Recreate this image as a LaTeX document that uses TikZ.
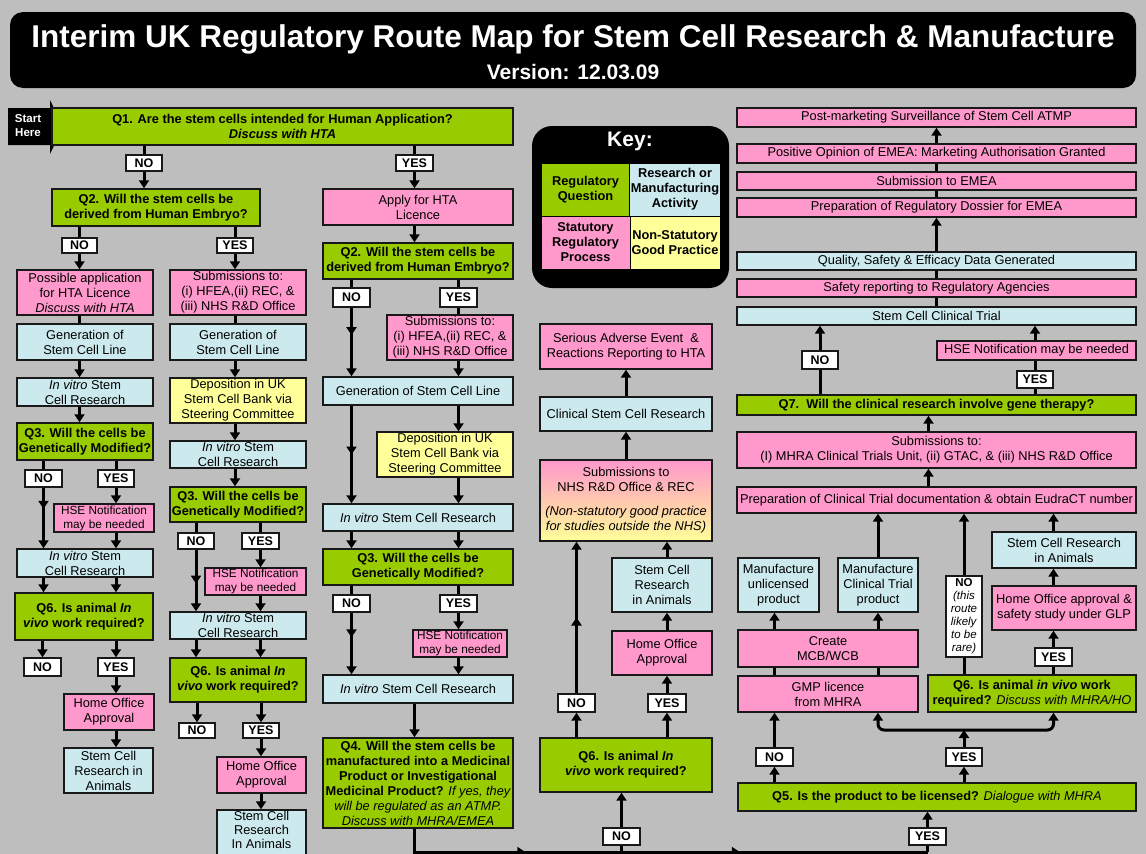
\documentclass[tikz,border=0pt]{standalone}
\usepackage{fontspec}
\setmainfont{Liberation Sans}
\usetikzlibrary{arrows.meta,decorations.markings}
\definecolor{bg}{RGB}{190,190,190}
\definecolor{qgreen}{RGB}{153,204,0}
\definecolor{ppink}{RGB}{255,153,204}
\definecolor{rblue}{RGB}{204,234,238}
\definecolor{nyellow}{RGB}{255,255,153}
\definecolor{edge}{RGB}{25,25,25}
\newcommand{\bx}[7]{\node[#2, minimum width={(#5)-(#3)}, minimum height={(#6)-(#4)}] (#1) at ({((#3)+(#5))/2},{((#4)+(#6))/2}) {#7};}
\newcommand{\itm}[1]{{\mdseries\itshape #1}}
\tikzset{
  base/.style={draw=edge, line width=1.4pt, inner sep=1pt, align=center, text=black, font=\fontsize{12.8}{15}\selectfont},
  q/.style={base, fill=qgreen, font=\fontsize{12.8}{15}\selectfont\bfseries},
  st/.style={base, fill=ppink},
  ra/.style={base, fill=rblue},
  gp/.style={base, fill=nyellow},
  hse/.style={font=\fontsize{11.8}{14}\selectfont},
  lab/.style={base, fill=white, font=\fontsize{12.5}{14}\selectfont\bfseries},
  keycell/.style={draw=black, line width=1pt, inner sep=1pt, align=center, font=\fontsize{12.8}{15}\selectfont\bfseries},
  line/.style={line width=3pt, draw=black},
  conn/.style={line, -{Triangle[length=8pt,width=10pt]}},
  midarr/.style={postaction={decorate}, decoration={markings, mark=at position #1 with {\arrow{Triangle[length=8pt,width=10pt]}}}},
  midarr/.default=0.5
}
\begin{document}
\begin{tikzpicture}[x=1pt,y=-1pt]
\fill[bg] (0,0) rectangle (1146,854);
\useasboundingbox (0,0) rectangle (1146,854);
% title
\node[fill=black, rounded corners=13pt, minimum width=1126, minimum height=76] (title) at (573,50) {};
\node[text=white, font=\fontsize{31.5}{34}\selectfont\bfseries] (t1) at (573,39) {Interim UK Regulatory Route Map for Stem Cell Research \& Manufacture};
\node[text=white, font=\fontsize{21}{24}\selectfont\bfseries] (t2) at (573,72) {Version: 12.03.09};
% start
\fill[black] (8,108) -- (50,108) -- (50,100) -- (63,127) -- (50,154) -- (50,145) -- (8,145) -- cycle;
\node[text=white, align=center, font=\fontsize{11.5}{14}\selectfont\bfseries] (start) at (28,126) {Start\\Here};
% key
\node[fill=black, rounded corners=20pt, minimum width=197, minimum height=162] (key) at (630.5,207) {};
\node[text=white, font=\fontsize{21}{24}\selectfont\bfseries] (keyt) at (630,141) {Key:};
\bx{k1}{keycell, fill=qgreen}{541}{163}{630}{216}{Regulatory\\Question}
\bx{k2}{keycell, fill=rblue}{630}{163}{720}{216}{Research or\\Manufacturing\\Activity}
\bx{k3}{keycell, fill=ppink}{541}{216}{630}{269}{Statutory\\Regulatory\\Process}
\bx{k4}{keycell, fill=nyellow}{630}{216}{720}{269}{Non-Statutory\\Good Practice}
% left columns
\bx{q1}{q}{52}{108}{513}{145}{Q1. Are the stem cells intended for Human Application?\\\textit{Discuss with HTA}}
\bx{l1no}{lab}{126}{155}{162}{171}{NO}
\bx{l1yes}{lab}{396}{155}{433}{171}{YES}
\bx{q2l}{q}{52}{189}{260}{226}{Q2. Will the stem cells be\\derived from Human Embryo?}
\bx{l2no}{lab}{62}{238}{97}{253}{NO}
\bx{l2yes}{lab}{217}{238}{253}{253}{YES}
\bx{possapp}{st}{17}{270}{153}{315}{Possible application\\for HTA Licence\\\textit{Discuss with HTA}}
\bx{subl}{st}{170}{270}{306}{315}{Submissions to:\\(i) HFEA,(ii) REC, \&\\(iii) NHS R\&D Office}
\bx{genl1}{ra}{17}{324}{153}{360}{Generation of\\Stem Cell Line}
\bx{genl2}{ra}{170}{324}{306}{360}{Generation of\\Stem Cell Line}
\bx{ivA}{ra}{17}{378}{153}{406}{\textit{In vitro} Stem\\Cell Research}
\bx{depA}{gp}{170}{378}{306}{423}{Deposition in UK\\Stem Cell Bank via\\Steering Committee}
\bx{q3A}{q}{17}{423}{153}{460}{Q3. Will the cells be\\Genetically Modified?}
\bx{ivB}{ra}{170}{441}{306}{468}{\textit{In vitro} Stem\\Cell Research}
\bx{l3no}{lab}{25}{470}{62}{487}{NO}
\bx{l3yes}{lab}{98}{470}{134}{487}{YES}
\bx{hseA}{st,hse}{54}{504}{154}{532}{HSE Notification\\may be needed}
\bx{q3B}{q}{170}{487}{306}{522}{Q3. Will the cells be\\Genetically Modified?}
\bx{m3no}{lab}{178}{533}{214}{549}{NO}
\bx{m3yes}{lab}{242}{533}{279}{549}{YES}
\bx{ivC}{ra}{17}{549}{153}{577}{\textit{In vitro} Stem\\Cell Research}
\bx{hseB}{st,hse}{205}{568}{306}{595}{HSE Notification\\may be needed}
\bx{q6A}{q}{15}{593}{153}{640}{Q6. Is animal \textit{In}\\\textit{vivo} work required?}
\bx{ivD}{ra}{170}{612}{306}{639}{\textit{In vitro} Stem\\Cell Research}
\bx{l6no}{lab}{24}{658}{61}{676}{NO}
\bx{l6yes}{lab}{98}{658}{134}{676}{YES}
\bx{q6B}{q}{170}{658}{306}{702}{Q6. Is animal \textit{In}\\\textit{vivo} work required?}
\bx{homeA}{st}{64}{694}{154}{730}{Home Office\\Approval}
\bx{m6no}{lab}{179}{723}{215}{738}{NO}
\bx{m6yes}{lab}{243}{723}{279}{738}{YES}
\bx{stemA}{ra}{64}{748}{153}{793}{Stem Cell\\Research in\\Animals}
\bx{homeB}{st}{217}{757}{306}{793}{Home Office\\Approval}
\bx{stemB}{ra}{217}{810}{306}{870}{}
\node[align=center, font=\fontsize{12.8}{14}\selectfont, inner sep=0pt] (stemBt) at (261.5,830) {Stem Cell\\Research\\In Animals};
% middle column
\bx{apply}{st}{323}{189}{513}{225}{Apply for HTA\\Licence}
\bx{q2m}{q}{323}{243}{513}{279}{Q2. Will the stem cells be\\derived from Human Embryo?}
\bx{c2no}{lab}{333}{288}{370}{307}{NO}
\bx{c2yes}{lab}{440}{288}{477}{307}{YES}
\bx{subM}{st}{387}{315}{513}{360}{Submissions to:\\(i) HFEA,(ii) REC, \&\\(iii) NHS R\&D Office}
\bx{genM}{ra}{323}{377}{513}{405}{Generation of Stem Cell Line}
\bx{depM}{gp}{377}{432}{513}{477}{Deposition in UK\\Stem Cell Bank via\\Steering Committee}
\bx{ivM1}{ra}{323}{504}{513}{531}{\textit{In vitro} Stem Cell Research}
\bx{q3M}{q}{323}{549}{513}{585}{Q3. Will the cells be\\Genetically Modified?}
\bx{c3no}{lab}{333}{595}{370}{612}{NO}
\bx{c3yes}{lab}{440}{595}{477}{612}{YES}
\bx{hseM}{st,hse}{413}{630}{507}{657}{HSE Notification\\may be needed}
\bx{ivM2}{ra}{323}{675}{513}{703}{\textit{In vitro} Stem Cell Research}
\bx{q4}{q}{323}{738}{513}{828}{Q4. Will the stem cells be\\manufactured into a Medicinal\\Product or Investigational\\Medicinal Product? \itm{If yes, they}\\\itm{will be regulated as an ATMP.}\\\itm{Discuss with MHRA/EMEA}}
% centre column
\bx{serious}{st}{540}{324}{712}{369}{Serious Adverse Event\ \ \&\\Reactions Reporting to HTA}
\bx{clin}{ra}{540}{397}{712}{431}{Clinical Stem Cell Research}
\bx{subnhs}{base, top color=ppink, bottom color=nyellow, middle color={rgb,255:red,255;green,200;blue,175}}{540}{460}{712}{541}{Submissions to\\NHS R\&D Office \& REC\\[9pt]\textit{(Non-statutory good practice}\\\textit{for studies outside the NHS)}}
\bx{stemC}{ra}{612}{558}{712}{612}{Stem Cell\\Research\\in Animals}
\bx{homeC}{st}{612}{631}{712}{675}{Home Office\\Approval}
\bx{q6cno}{lab}{558}{694}{595}{712}{NO}
\bx{q6cyes}{lab}{648}{694}{686}{712}{YES}
\bx{q6C}{q}{540}{738}{712}{792}{Q6. Is animal \textit{In}\\\textit{vivo} work required?}
\bx{botno}{lab}{603}{828}{640}{845}{NO}
% right column
\bx{postmkt}{st}{737}{108}{1136}{127}{Post-marketing Surveillance of Stem Cell ATMP}
\bx{posop}{st}{737}{144}{1136}{163}{Positive Opinion of EMEA: Marketing Authorisation Granted}
\bx{subemea}{st}{737}{172}{1136}{190}{Submission to EMEA}
\bx{prepdos}{st}{737}{198}{1136}{217}{Preparation of Regulatory Dossier for EMEA}
\bx{quality}{ra}{737}{252}{1136}{270}{Quality, Safety \& Efficacy Data Generated}
\bx{safety}{st}{737}{279}{1136}{297}{Safety reporting to Regulatory Agencies}
\bx{ct}{ra}{737}{307}{1136}{325}{Stem Cell Clinical Trial}
\bx{hseR}{st}{937}{341}{1136}{360}{HSE Notification may be needed}
\bx{q7no}{lab}{802}{351}{838}{369}{NO}
\bx{q7yes}{lab}{1017}{371}{1053}{388}{YES}
\bx{q7}{q}{737}{395}{1136}{415}{Q7.\ \ Will the clinical research involve gene therapy?}
\bx{subR}{st}{737}{432}{1136}{468}{Submissions to:\\(I) MHRA Clinical Trials Unit, (ii) GTAC, \& (iii) NHS R\&D Office}
\bx{prepct}{st}{737}{487}{1136}{513}{Preparation of Clinical Trial documentation \& obtain EudraCT number}
\bx{stemR}{ra}{992}{532}{1136}{568}{Stem Cell Research\\in Animals}
\bx{manu}{ra}{738}{558}{819}{612}{Manufacture\\unlicensed\\product}
\bx{manct}{ra}{838}{558}{918}{612}{Manufacture\\Clinical Trial\\product}
\bx{norare}{lab, font=\fontsize{11.5}{13}\selectfont}{946}{576}{982}{657}{\textbf{NO}\\\textit{(this}\\\textit{route}\\\textit{likely}\\\textit{to be}\\\textit{rare)}}
\bx{homeR}{st}{992}{586}{1136}{630}{Home Office approval \&\\safety study under GLP}
\bx{create}{st}{738}{630}{918}{667}{Create\\MCB/WCB}
\bx{r6yes}{lab}{1035}{648}{1072}{666}{YES}
\bx{gmp}{st}{738}{676}{918}{712}{GMP licence\\from MHRA}
\bx{q6r}{q}{928}{675}{1136}{712}{Q6. Is animal \textit{in vivo} work\\required? \itm{Discuss with MHRA/HO}}
\bx{q5no}{lab}{756}{748}{793}{766}{NO}
\bx{q5yes}{lab}{946}{748}{982}{766}{YES}
\bx{q5}{q}{738}{783}{1136}{811}{Q5. Is the product to be licensed? \itm{Dialogue with MHRA}}
\bx{botyes}{lab}{909}{828}{946}{845}{YES}
% ---------- connectors: left
\draw[line] (q1.south -| l1no) -- (l1no.north);
\draw[conn] (l1no.south) -- (l1no |- q2l.north);
\draw[line] (q2l.south -| l2no) -- (l2no.north);
\draw[conn] (l2no.south) -- (l2no |- possapp.north);
\draw[line] (q2l.south -| l2yes) -- (l2yes.north);
\draw[conn] (l2yes.south) -- (l2yes |- subl.north);
\draw[line] (possapp.south -| l2no) -- (l2no |- genl1.north);
\draw[line] (subl.south -| l2yes) -- (l2yes |- genl2.north);
\draw[conn] (genl1.south -| l2no) -- (l2no |- ivA.north);
\draw[conn] (ivA.south -| l2no) -- (l2no |- q3A.north);
\draw[line] (q3A.south -| l3no) -- (l3no.north);
\draw[conn, midarr=0.35] (l3no.south) -- (l3no |- ivC.north);
\draw[line] (q3A.south -| l3yes) -- (l3yes.north);
\draw[conn] (l3yes.south) -- (l3yes |- hseA.north);
\draw[conn] (hseA.south -| l3yes) -- (l3yes |- ivC.north);
\draw[conn] (ivC.south -| l3no) -- (l3no |- q6A.north);
\draw[conn] (ivC.south -| l3yes) -- (l3yes |- q6A.north);
\draw[conn] (q6A.south -| l6no) -- (l6no.north);
\draw[conn] (q6A.south -| l6yes) -- (l6yes.north);
\draw[conn] (l6yes.south) -- (l6yes |- homeA.north);
\draw[conn] (homeA.south -| l6yes) -- (l6yes |- stemA.north);
% middle-left
\draw[conn] (genl2.south -| l2yes) -- (l2yes |- depA.north);
\draw[conn] (depA.south -| l2yes) -- (l2yes |- ivB.north);
\draw[conn] (ivB.south -| l2yes) -- (l2yes |- q3B.north);
\draw[line] (q3B.south -| m3no) -- (m3no.north);
\draw[conn, midarr=0.55] (m3no.south) -- (m3no |- ivD.north);
\draw[line] (q3B.south -| m3yes) -- (m3yes.north);
\draw[conn] (m3yes.south) -- (m3yes |- hseB.north);
\draw[conn] (hseB.south -| m3yes) -- (m3yes |- ivD.north);
\draw[conn] (ivD.south -| m3no) -- (m3no |- q6B.north);
\draw[conn] (ivD.south -| m3yes) -- (m3yes |- q6B.north);
\draw[conn] (q6B.south -| m6no) -- (m6no.north);
\draw[conn] (q6B.south -| m6yes) -- (m6yes.north);
\draw[conn] (m6yes.south) -- (m6yes |- homeB.north);
\draw[conn] (homeB.south -| m6yes) -- (m6yes |- stemB.north);
% middle
\draw[line] (q1.south -| l1yes) -- (l1yes.north);
\draw[conn] (l1yes.south) -- (l1yes |- apply.north);
\draw[conn] (apply.south -| l1yes) -- (l1yes |- q2m.north);
\draw[line] (q2m.south -| c2no) -- (c2no.north);
\draw[conn, midarr=0.4] (c2no.south) -- (c2no |- genM.north);
\draw[line] (q2m.south -| c2yes) -- (c2yes.north);
\draw[line] (c2yes.south) -- (c2yes |- subM.north);
\draw[conn] (subM.south -| c2yes) -- (c2yes |- genM.north);
\draw[conn, midarr=0.5] (genM.south -| c2no) -- (c2no |- ivM1.north);
\draw[conn] (genM.south -| c2yes) -- (c2yes |- depM.north);
\draw[conn] (depM.south -| c2yes) -- (c2yes |- ivM1.north);
\draw[conn] (ivM1.south -| c2no) -- (c2no |- q3M.north);
\draw[conn] (ivM1.south -| c2yes) -- (c2yes |- q3M.north);
\draw[line] (q3M.south -| c3no) -- (c3no.north);
\draw[line] (q3M.south -| c3yes) -- (c3yes.north);
\draw[conn, midarr=0.4] (c3no.south) -- (c3no |- ivM2.north);
\draw[conn] (c3yes.south) -- (c3yes |- hseM.north);
\draw[conn] (hseM.south -| c3yes) -- (c3yes |- ivM2.north);
\draw[conn] (ivM2.south -| l1yes) -- (l1yes |- q4.north);
% bottom line
\coordinate (bA) at (414.5,852);
\coordinate (bB) at (927.5,852);
\draw[line, postaction={decorate}, decoration={markings,
  mark=at position 0.25 with {\arrow{Triangle[length=8pt,width=10pt]}},
  mark=at position 0.65 with {\arrow{Triangle[length=8pt,width=10pt]}}}]
  (q4.south -| l1yes) -- (bA) -- (bB);
\draw[line] (botno.south) -- (botno.south |- bB);
\draw[conn] (botno.north) -- (botno |- q6C.south);
\draw[line] (botyes.south) -- (botyes.south |- bB);
\draw[conn] (botyes.north) -- (botyes |- q5.south);
% centre
\draw[conn] (q6C.north -| q6cno) -- (q6cno.south);
\draw[conn] (q6C.north -| q6cyes) -- (q6cyes.south);
\draw[conn, midarr=0.5] (q6cno.north) -- (q6cno |- subnhs.south);
\draw[conn] (q6cyes.north) -- (q6cyes |- homeC.south);
\draw[conn] (homeC.north -| q6cyes) -- (q6cyes |- stemC.south);
\draw[conn] (stemC.north -| q6cyes) -- (q6cyes |- subnhs.south);
\draw[conn] (subnhs.north) -- (clin.south);
\draw[conn] (clin.north) -- (serious.south);
% right
\draw[conn] (q5.north -| q5no) -- (q5no.south);
\draw[conn] (q5.north -| q5yes) -- (q5yes.south);
\draw[conn] (q5no.north) -- (q5no |- gmp.south);
\coordinate (jn) at (964,730);
\draw[conn] (q5yes.north) -- (jn);
\draw[conn, rounded corners=6pt] (jn) -| (gmp.south -| manct);
\draw[conn, rounded corners=6pt] (jn) -| (q6r.south -| r6yes);
\draw[line] (gmp.north -| q5no) -- (q5no |- create.south);
\draw[line] (gmp.north -| manct) -- (manct |- create.south);
\draw[conn] (create.north -| q5no) -- (q5no |- manu.south);
\draw[conn] (create.north -| manct) -- (manct.south);
\draw[conn] (manct.north) -- (manct |- prepct.south);
\draw[line] (q6r.north -| norare) -- (norare.south);
\draw[conn] (norare.north) -- (norare |- prepct.south);
\draw[line] (q6r.north -| r6yes) -- (r6yes.south);
\draw[conn] (r6yes.north) -- (r6yes |- homeR.south);
\draw[conn] (homeR.north -| r6yes) -- (r6yes |- stemR.south);
\draw[conn] (stemR.north -| r6yes) -- (r6yes |- prepct.south);
\draw[conn] ([xshift=-8pt]prepct.north) -- ([xshift=-8pt]subR.south);
\draw[conn] ([xshift=-8pt]subR.north) -- ([xshift=-8pt]q7.south);
\draw[line] (q7.north -| q7no) -- (q7no.south);
\draw[conn] (q7no.north) -- (q7no |- ct.south);
\draw[line] (q7.north -| q7yes) -- (q7yes.south);
\draw[line] (q7yes.north) -- (q7yes |- hseR.south);
\draw[conn] (hseR.north -| q7yes) -- (q7yes |- ct.south);
\draw[line] (ct.north) -- (safety.south);
\draw[line] (safety.north) -- (quality.south);
\draw[conn] (quality.north) -- (prepdos.south);
\draw[line] (prepdos.north) -- (subemea.south);
\draw[line] (subemea.north) -- (posop.south);
\draw[conn] (posop.north) -- (postmkt.south);
\end{tikzpicture}
\end{document}
